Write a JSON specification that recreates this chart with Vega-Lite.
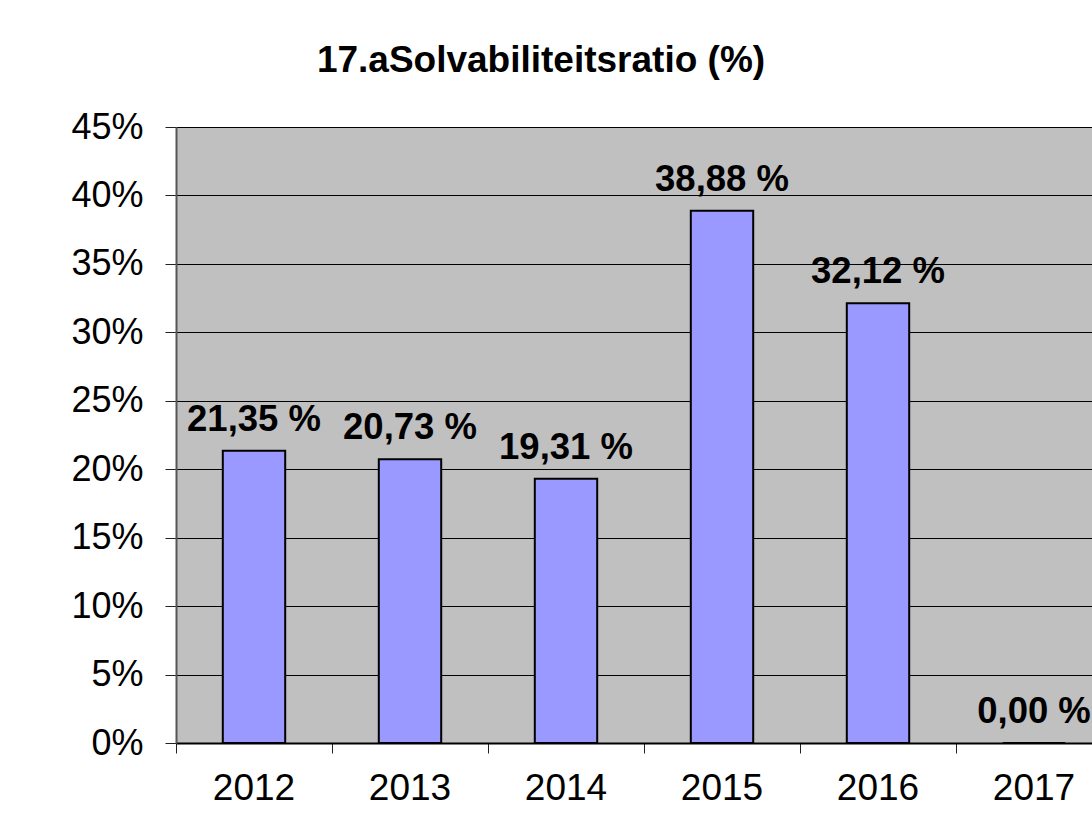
{
  "$schema": "https://vega.github.io/schema/vega-lite/v6.json",
  "autosize": {"type": "none"},
  "padding": {"left": 176, "top": 127, "right": 0, "bottom": 89},
  "width": 916,
  "height": 616,
  "background": "white",
  "title": {
    "text": "17.aSolvabiliteitsratio (%)",
    "font": "Liberation Sans",
    "fontSize": 37,
    "fontWeight": "bold",
    "color": "black",
    "anchor": "middle",
    "baseline": "alphabetic",
    "offset": 0,
    "dx": -93
  },
  "data": {
    "values": [
      {"year": "2012", "value": 0.2135, "label": "21,35 %"},
      {"year": "2013", "value": 0.2073, "label": "20,73 %"},
      {"year": "2014", "value": 0.1931, "label": "19,31 %"},
      {"year": "2015", "value": 0.3888, "label": "38,88 %"},
      {"year": "2016", "value": 0.3212, "label": "32,12 %"},
      {"year": "2017", "value": 0.0, "label": "0,00 %"}
    ]
  },
  "encoding": {
    "x": {
      "field": "year",
      "type": "nominal",
      "sort": null,
      "scale": {"range": [0, 936], "paddingInner": 0, "paddingOuter": 0},
      "axis": {
        "title": null,
        "bandPosition": 0,
        "labelOffset": 0,
        "labelAngle": 0,
        "labelFont": "Liberation Sans",
        "labelFontSize": 37,
        "labelColor": "black",
        "labelPadding": 17,
        "tickSize": 10,
        "tickColor": "#222222",
        "domainColor": "black",
        "domainWidth": 2,
        "grid": false
      }
    },
    "y": {
      "field": "value",
      "type": "quantitative",
      "scale": {"domain": [0, 0.45], "nice": false, "zero": true},
      "axis": {
        "title": null,
        "values": [0, 0.05, 0.1, 0.15, 0.2, 0.25, 0.3, 0.35, 0.4, 0.45],
        "format": ".0%",
        "labelFont": "Liberation Sans",
        "labelFontSize": 36,
        "labelColor": "black",
        "labelPadding": 22,
        "tickSize": 11,
        "tickColor": "#222222",
        "domainColor": "#555555",
        "domainWidth": 2,
        "grid": true,
        "gridColor": "black",
        "gridWidth": 1,
        "gridOpacity": 1
      }
    }
  },
  "layer": [
    {
      "mark": {"type": "bar", "width": {"band": 0.4}, "fill": "#9999FF", "stroke": "black", "strokeWidth": 2}
    },
    {
      "mark": {"type": "text", "font": "Liberation Sans", "fontSize": 36.5, "fontWeight": "bold", "color": "black", "baseline": "alphabetic", "align": "center", "dy": -20},
      "encoding": {"text": {"field": "label"}}
    }
  ],
  "config": {
    "view": {"fill": "#C0C0C0", "stroke": null}
  }
}
